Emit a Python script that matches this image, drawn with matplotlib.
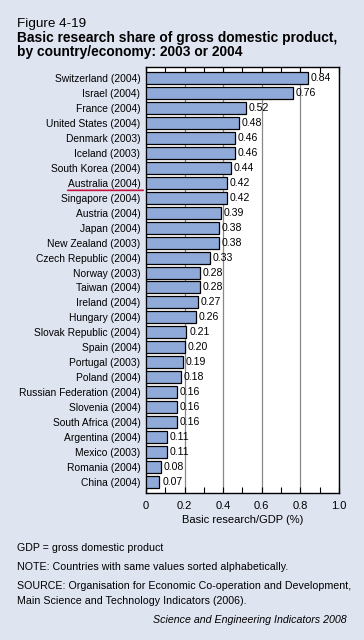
import matplotlib.pyplot as plt

plt.rcParams["font.family"] = ["Liberation Sans", "DejaVu Sans"]

countries = ["Switzerland (2004)", "Israel (2004)", "France (2004)", "United States (2004)",
             "Denmark (2003)", "Iceland (2003)", "South Korea (2004)", "Australia (2004)",
             "Singapore (2004)", "Austria (2004)", "Japan (2004)", "New Zealand (2003)",
             "Czech Republic (2004)", "Norway (2003)", "Taiwan (2004)", "Ireland (2004)",
             "Hungary (2004)", "Slovak Republic (2004)", "Spain (2004)", "Portugal (2003)",
             "Poland (2004)", "Russian Federation (2004)", "Slovenia (2004)",
             "South Africa (2004)", "Argentina (2004)", "Mexico (2003)", "Romania (2004)",
             "China (2004)"]
values = [0.84, 0.76, 0.52, 0.48, 0.46, 0.46, 0.44, 0.42, 0.42, 0.39, 0.38, 0.38, 0.33,
          0.28, 0.28, 0.27, 0.26, 0.21, 0.20, 0.19, 0.18, 0.16, 0.16, 0.16, 0.11, 0.11,
          0.08, 0.07]
xticks = [0, 0.2, 0.4, 0.6, 0.8, 1.0]
xtick_labels = ["0", "0.2", "0.4", "0.6", "0.8", "1.0"]
minor_ticks = [0.1, 0.3, 0.5, 0.7, 0.9]
highlight = "Australia (2004)"

bg = "#dfe4f1"
bar_color = "#8faad9"

fig = plt.figure(figsize=(3.64, 6.4), dpi=100, facecolor=bg)
ax = fig.add_axes([0.401, 0.230, 0.530, 0.665])
ax.set_facecolor("white")

pos = list(range(len(countries)))
ax.barh(pos, values, height=0.8, color=bar_color, edgecolor="black", linewidth=0.9, zorder=3)
for p, v in zip(pos, values):
    ax.text(v + 0.014, p, f"{v:.2f}", va="center", ha="left", fontsize=7.6, zorder=4)

ax.set_xlim(0, 1.0)
ax.set_ylim(len(countries) - 0.26, -0.74)
ax.set_yticks(pos)
ax.set_yticklabels(countries, fontsize=7.4)
ax.tick_params(axis="y", length=0, pad=4)

ax.set_xticks(xticks)
ax.set_xticklabels(xtick_labels)
ax.set_xticks(minor_ticks, minor=True)
ax.tick_params(axis="x", which="both", direction="in", top=True, length=4, width=0.8,
               labelsize=8, pad=6)
ax.grid(axis="x", which="major", color="#888888", linewidth=0.9, zorder=1)
ax.set_xlabel("Basic research/GDP (%)", fontsize=8, labelpad=3)
for s in ax.spines.values():
    s.set_linewidth(1.0)

# underline the highlighted country
y = pos[countries.index(highlight)]
ax.annotate("", xy=(0, y + 0.5), xycoords=("axes fraction", "data"),
            xytext=(-0.42, y + 0.5), textcoords=("axes fraction", "data"),
            arrowprops=dict(arrowstyle="-", color="#c8143c", lw=1.2),
            annotation_clip=False)

fig.text(0.047, 0.958, "Figure 4-19", fontsize=9.7, va="baseline")
fig.text(0.047, 0.935, "Basic research share of gross domestic product,", fontsize=9.9,
         fontweight="bold", va="baseline")
fig.text(0.047, 0.912, "by country/economy: 2003 or 2004", fontsize=9.9,
         fontweight="bold", va="baseline")

fs = 7.7
fig.text(0.047, 0.139, "GDP = gross domestic product", fontsize=fs, va="baseline")
fig.text(0.047, 0.109, "NOTE: Countries with same values sorted alphabetically.", fontsize=fs,
         va="baseline")
fig.text(0.047, 0.079, "SOURCE: Organisation for Economic Co-operation and Development,",
         fontsize=fs, va="baseline")
fig.text(0.047, 0.057, "Main Science and Technology Indicators (2006).", fontsize=fs,
         va="baseline")
fig.text(0.953, 0.026, "Science and Engineering Indicators 2008", fontsize=fs,
         style="italic", ha="right", va="baseline")

fig.savefig("out.png", dpi=100, facecolor=bg)
